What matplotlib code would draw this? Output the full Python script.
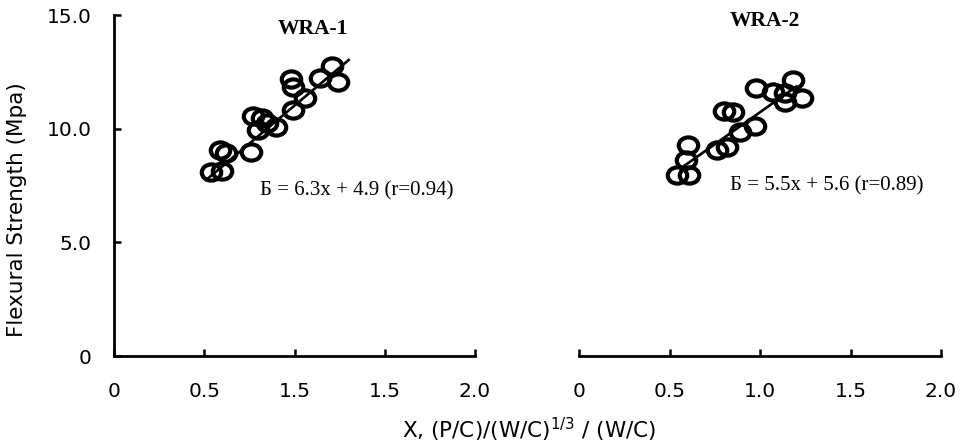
import matplotlib
matplotlib.use("Agg")
import matplotlib.pyplot as plt
from matplotlib.path import Path
from matplotlib.markers import MarkerStyle
from matplotlib.transforms import Affine2D

# ---- data ----
wra1_x = [0.54, 0.60, 0.59, 0.62, 0.76, 0.77, 0.82, 0.80, 0.85, 0.90,
          0.99, 0.98, 0.99, 1.06, 1.14, 1.21, 1.24]
wra1_y = [8.09, 8.14, 9.06, 8.93, 8.97, 10.56, 10.47, 9.94, 10.25, 10.07,
          10.82, 12.19, 11.83, 11.35, 12.23, 12.76, 12.05]
wra1_fit_x = [0.51, 1.30]
wra1_fit_y = [7.74, 13.02]

wra2_x = [0.54, 0.61, 0.59, 0.60, 0.76, 0.82, 0.80, 0.85, 0.89, 0.97,
          0.98, 1.07, 1.14, 1.18, 1.14, 1.23]
wra2_y = [7.96, 7.96, 8.62, 9.28, 9.06, 9.19, 10.78, 10.73, 9.85, 10.12,
          11.79, 11.61, 11.57, 12.14, 11.17, 11.35]
wra2_fit_x = [0.57, 1.20]
wra2_fit_y = [8.30, 11.85]

x_ticks = [0, 0.5, 1.0, 1.5, 2.0]
left_xtick_labels = ["0", "0.5", "1.5", "1.5", "2.0"]
right_xtick_labels = ["0", "0.5", "1.0", "1.5", "2.0"]
y_ticks = [0, 5, 10, 15]
y_tick_labels = ["0", "5.0", "10.0", "15.0"]

titles = ["WRA-1", "WRA-2"]
equations = ["Б = 6.3x + 4.9 (r=0.94)", "Б = 5.5x + 5.6 (r=0.89)"]

plt.rcParams["font.family"] = ["DejaVu Sans"]
plt.rcParams["mathtext.fontset"] = "dejavusans"

W, H = 966, 445
fig = plt.figure(figsize=(W / 100, H / 100), dpi=100)

ax1 = fig.add_axes([114 / W, (H - 356) / H, 361 / W, 341 / H])
ax2 = fig.add_axes([579 / W, (H - 356) / H, 362 / W, 341 / H])

ell = MarkerStyle(Path.unit_circle().transformed(Affine2D().scale(1.2, 1.0)))

serif = ["Liberation Serif", "DejaVu Serif"]

for ax, xs, ys, fx, fy in [(ax1, wra1_x, wra1_y, wra1_fit_x, wra1_fit_y),
                           (ax2, wra2_x, wra2_y, wra2_fit_x, wra2_fit_y)]:
    ax.plot(fx, fy, color="black", lw=1.9, zorder=2)
    ax.plot(xs, ys, linestyle="none", marker=ell, markersize=14,
            markerfacecolor="none", markeredgecolor="black",
            markeredgewidth=3.0, zorder=3)
    ax.set_xlim(0, 2.0)
    ax.set_ylim(0, 15)
    ax.set_xticks(x_ticks)
    for s in ["top", "right"]:
        ax.spines[s].set_visible(False)
    ax.spines["bottom"].set_linewidth(2.0)
    ax.spines["left"].set_linewidth(2.0)
    ax.tick_params(axis="both", direction="in", length=5, width=1.8,
                   labelsize=14.5, pad=19, colors="black")

ax1.set_xticklabels(left_xtick_labels)
ax1.set_yticks(y_ticks)
ax1.set_yticklabels(y_tick_labels)
ax1.tick_params(axis="y", pad=16)
ax1.set_ylabel("Flexural Strength (Mpa)", fontsize=15.5)
ax1.yaxis.set_label_coords(-0.241, 0.428)

ax2.set_xticklabels(right_xtick_labels)
ax2.spines["left"].set_visible(False)
ax2.set_yticks([])

# titles and equations
fig.text(313 / W, 1 - 29 / H, titles[0], fontsize=15.5, fontweight="bold",
         family=serif, ha="center", va="center")
fig.text(765 / W, 1 - 21 / H, titles[1], fontsize=15.5, fontweight="bold",
         family=serif, ha="center", va="center")
fig.text(260 / W, 1 - 191 / H, equations[0], fontsize=15, family=serif,
         ha="left", va="center")
fig.text(730 / W, 1 - 186 / H, equations[1], fontsize=15, family=serif,
         ha="left", va="center")

fig.text(529 / W, 1 - 430 / H, r"X, (P/C)/(W/C)$^{\mathrm{1/3}}$ / (W/C)",
         fontsize=15.5, ha="center", va="center")

fig.savefig("out.png", dpi=100)
